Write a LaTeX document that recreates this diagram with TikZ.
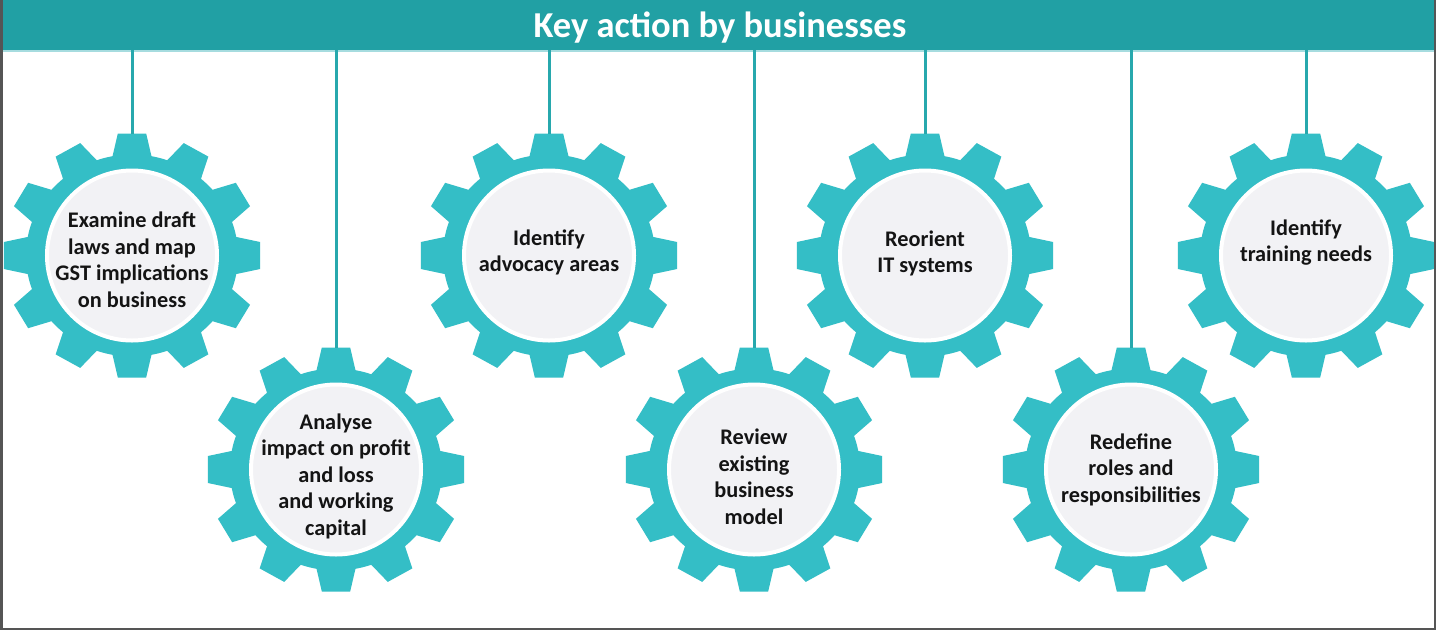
\documentclass[tikz,border=0pt]{standalone}
\usepackage{fontspec}
\setmainfont{Carlito}
\definecolor{barc}{HTML}{21A0A4}
\definecolor{barline}{HTML}{A6DCDF}
\definecolor{gearc}{HTML}{34BEC6}
\definecolor{innerc}{HTML}{F2F2F5}
\definecolor{linec}{HTML}{27A8AD}
\definecolor{framec}{HTML}{555555}
\definecolor{txtc}{HTML}{141414}
\tikzset{
  hub/.style={circle, fill=innerc, draw=white, line width=4pt, minimum size=170pt, inner sep=0pt},
  gearlabel/.style={align=center, text=txtc, font=\fontsize{22.3}{26.5}\selectfont\bfseries, inner sep=0pt},
  link/.style={draw=linec, line width=3pt},
  titlebar/.style={rectangle, fill=barc, draw=none, minimum width=1436pt, minimum height=50pt, inner sep=0pt},
  titletext/.style={text=white, font=\fontsize{36.5}{40}\selectfont\bfseries, inner sep=0pt, anchor=base},
}
\newcommand{\gearshape}[2]{%
  \begin{scope}[shift={(#1,#2)}, xscale=1.05]
    \fill[gearc] (0,0) circle (101pt);
    \foreach \a in {0,30,...,330}{
      \fill[gearc, rotate=\a] (-19.5,-95) -- (-13.5,-122) -- (13.5,-122) -- (19.5,-95) -- cycle;
    }
  \end{scope}}
\begin{document}
\begin{tikzpicture}[x=1pt, y=-1pt]
  \useasboundingbox (0,0) rectangle (1436,630);
  \fill[white] (0,0) rectangle (1436,630);
  % title bar
  \node[titlebar] (bar) at (718,25) {};
  \draw[barline, line width=1.5pt] (0,50.75) -- (1436,50.75);
  \node[titletext] (title) at (720,37.5) {Key action by businesses};
  % gears
  \gearshape{132}{255.5}
  \gearshape{336}{469.5}
  \gearshape{549}{255.5}
  \gearshape{754}{469.5}
  \gearshape{925}{255.5}
  \gearshape{1131}{469.5}
  \gearshape{1306}{255.5}
  \node[hub] (g1) at (132,255.5) {};
  \node[hub] (g2) at (336,469.5) {};
  \node[hub] (g3) at (549,255.5) {};
  \node[hub] (g4) at (754,469.5) {};
  \node[hub] (g5) at (925,255.5) {};
  \node[hub] (g6) at (1131,469.5) {};
  \node[hub] (g7) at (1306,255.5) {};
  % tooth tips for connectors
  \coordinate (c1) at (132,134);
  \coordinate (c2) at (336,348);
  \coordinate (c3) at (549,134);
  \coordinate (c4) at (754,348);
  \coordinate (c5) at (925,134);
  \coordinate (c6) at (1131,348);
  \coordinate (c7) at (1306,134);
  \foreach \i in {1,...,7}{
    \draw[link] (bar.south -| c\i) -- (c\i);
  }
  % labels
  \node[gearlabel] (t1) at (132,260) {Examine draft\\laws and map\\GST implications\\on business};
  \node[gearlabel] (t2) at (336,476) {Analyse\\impact on profit\\and loss\\and working\\capital};
  \node[gearlabel] (t3) at (549,252.5) {Identify\\advocacy areas};
  \node[gearlabel] (t4) at (754,476.5) {Review\\existing\\business\\model};
  \node[gearlabel] (t5) at (925,253.5) {Reorient\\IT systems};
  \node[gearlabel] (t6) at (1131,469.5) {Redefine\\roles and\\responsibilities};
  \node[gearlabel] (t7) at (1306,242.5) {Identify\\training needs};
  % frame
  \draw[framec, line width=2.5pt] (1.25,0) -- (1.25,628.75) -- (1434.75,628.75) -- (1434.75,0);
\end{tikzpicture}
\end{document}
